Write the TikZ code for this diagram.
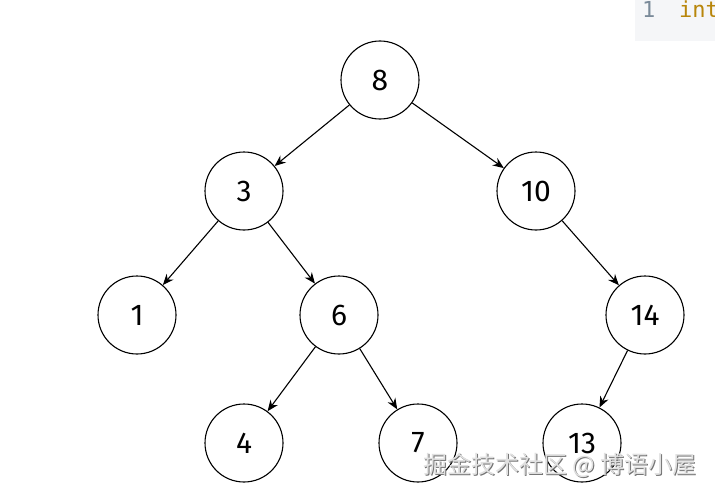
\documentclass[tikz,border=0pt]{standalone}
\usepackage{fontspec}
\setsansfont{Fira Sans}
\newfontfamily\cjk{Noto Sans CJK SC}
\newfontfamily\codefont{DejaVu Sans Mono}
\usetikzlibrary{arrows.meta}
\definecolor{codebg}{HTML}{F5F6F8}
\definecolor{linenum}{HTML}{7A8A99}
\definecolor{kw}{HTML}{B8860B}
\begin{document}
\begin{tikzpicture}[x=1pt,y=-1pt,
  tnode/.style={circle,draw,line width=1.1pt,minimum size=78pt,inner sep=0pt,font=\sffamily\fontsize{30}{32}\selectfont},
  edge/.style={line width=1.1pt,-{Stealth[length=11pt,width=9pt]}},
  wm/.style={font=\cjk\fontsize{24}{26}\selectfont,anchor=west}]
\useasboundingbox (0,0) rectangle (715,495);
\fill[codebg] (635,0) rectangle (715,41);
\node[font=\codefont\fontsize{22}{24}\selectfont,text=linenum,anchor=base west,inner sep=0pt] (ln) at (642,18) {1};
\node[font=\codefont\fontsize{22}{24}\selectfont,text=kw,anchor=base west,inner sep=0pt] (kw) at (679,18) {int};
\node[tnode] (n8) at (380,80) {8};
\node[tnode] (n3) at (244,191) {3};
\node[tnode] (n10) at (536,191) {10};
\node[tnode] (n1) at (137,315) {1};
\node[tnode] (n6) at (339,315) {6};
\node[tnode] (n14) at (645,315) {14};
\node[tnode] (n4) at (244,443) {4};
\node[tnode] (n7) at (418,443) {7};
\node[tnode] (n13) at (582,443) {13};
\draw[edge] (n8) -- (n3);
\draw[edge] (n8) -- (n10);
\draw[edge] (n3) -- (n1);
\draw[edge] (n3) -- (n6);
\draw[edge] (n10) -- (n14);
\draw[edge] (n6) -- (n4);
\draw[edge] (n6) -- (n7);
\draw[edge] (n14) -- (n13);
\node[wm,text=black!55] at (420.8,466.8) {掘金技术社区 @ 博语小屋};
\node[wm,text=black!12] (wm) at (419.5,465.5) {掘金技术社区 @ 博语小屋};
\end{tikzpicture}
\end{document}
